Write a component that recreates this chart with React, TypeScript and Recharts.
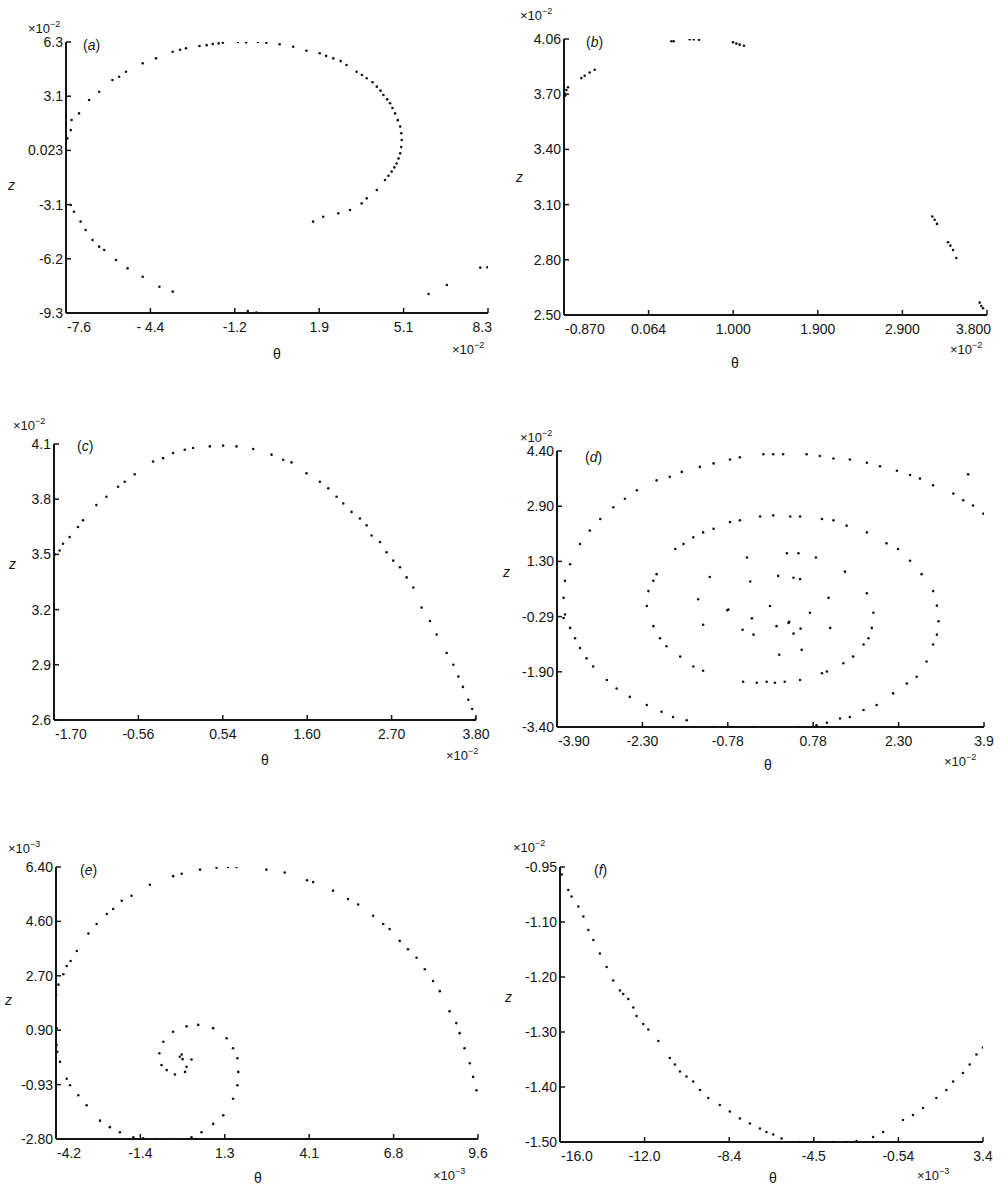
import React from 'react';
import { ScatterChart, Scatter, XAxis, YAxis } from 'recharts';

// θ, z pairs (units as printed on the axes)
const pointsA: number[][] = [
  [-7.61, 0.47], [-7.55, 0.75], [-7.42, 1.23], [-7.39, 1.81], [-7.11, 2.19], [-6.73, 2.96], [-6.35, 3.44],
  [-5.85, 4.11], [-5.6, 4.3], [-5.34, 4.59], [-4.71, 5.07], [-4.21, 5.36], [-3.58, 5.74], [-3.3, 5.85], [-3.08, 5.94], [-2.57, 6.07],
  [-2.3, 6.12], [-2.07, 6.18], [-1.85, 6.22], [-1.69, 6.26], [-1.12, 6.3], [-0.81, 6.28], [-0.37, 6.3],
  [-0.05, 6.26], [0.45, 6.17], [0.96, 6.03], [1.46, 5.8], [1.96, 5.65], [2.2, 5.5], [2.47, 5.36], [2.75, 5.2],
  [2.97, 4.98], [3.35, 4.59], [3.55, 4.4], [3.73, 4.21], [3.95, 3.98], [4.11, 3.73], [4.25, 3.5], [4.36, 3.25], [4.5, 3.0],
  [4.61, 2.77], [4.7, 2.5], [4.8, 2.19], [4.9, 1.8], [4.99, 1.43], [5.03, 1.05], [5.05, 0.66], [5.03, 0.25],
  [4.99, -0.11], [4.93, -0.4], [4.86, -0.69], [4.77, -0.92], [4.67, -1.16], [4.55, -1.4], [4.42, -1.64],
  [4.11, -2.22], [3.73, -2.7], [3.54, -2.99], [3.1, -3.37], [2.66, -3.56], [2.09, -3.76], [1.71, -4.04],
  [-7.61, -2.41], [-7.42, -3.08], [-7.3, -3.47], [-7.05, -4.04], [-6.86, -4.52], [-6.6, -5.1], [-6.35, -5.48],
  [-6.16, -5.67], [-5.72, -6.25], [-5.28, -6.73], [-4.71, -7.21], [-4.08, -7.79], [-3.58, -8.07],
  [-0.75, -9.19], [-0.43, -9.28], [6.06, -8.21], [6.75, -7.69], [8.01, -6.69], [8.28, -6.67],
];

const pointsB: number[][] = [
  [-0.863, 3.753], [-0.855, 3.74], [-0.844, 3.772], [-0.826, 3.787], [-0.679, 3.839], [-0.642, 3.852],
  [-0.587, 3.871], [-0.531, 3.886], [0.315, 4.047], [0.341, 4.047], [0.517, 4.058], [0.562, 4.058],
  [0.62, 4.056], [0.996, 4.041], [1.033, 4.034], [1.069, 4.028], [1.117, 4.022], [3.196, 3.057],
  [3.222, 3.038], [3.248, 3.015], [3.369, 2.911], [3.395, 2.892], [3.425, 2.867], [3.461, 2.822],
  [3.719, 2.57], [3.737, 2.551], [3.756, 2.538],
];

const pointsC: number[][] = [
  [-1.69, 3.5], [-1.626, 3.521], [-1.582, 3.558], [-1.496, 3.594], [-1.387, 3.649], [-1.322, 3.686],
  [-1.148, 3.768], [-1.017, 3.813], [-0.865, 3.868], [-0.778, 3.895], [-0.648, 3.936], [-0.409, 4.005],
  [-0.278, 4.023], [-0.148, 4.051], [0.004, 4.069], [0.113, 4.078], [0.331, 4.087], [0.504, 4.091],
  [0.678, 4.087], [0.896, 4.073], [1.135, 4.042], [1.287, 4.014], [1.396, 4.0], [1.591, 3.941],
  [1.765, 3.895], [1.874, 3.859], [1.983, 3.813], [2.07, 3.777], [2.178, 3.731], [2.287, 3.695],
  [2.374, 3.658], [2.439, 3.603], [2.548, 3.567], [2.635, 3.512], [2.722, 3.466], [2.809, 3.43],
  [2.896, 3.375], [2.983, 3.32], [3.091, 3.211], [3.2, 3.138], [3.287, 3.065], [3.418, 2.964],
  [3.505, 2.9], [3.57, 2.836], [3.63, 2.78], [3.7, 2.71], [3.75, 2.66], [3.8, 2.61],
];

const pointsD: number[][] = [
  // outer turn
  [-3.754, -0.22], [-3.78, 0.25], [-3.754, 0.73], [-3.66, 1.2], [-3.48, 1.77], [-3.3, 2.15], [-3.11, 2.48],
  [-2.87, 2.81], [-2.66, 3.05], [-2.44, 3.29], [-2.08, 3.57], [-1.84, 3.67], [-1.62, 3.81], [-1.29, 3.95],
  [-1.04, 4.05], [-0.74, 4.16], [-0.56, 4.22], [-0.13, 4.31], [0.05, 4.31], [0.23, 4.31], [0.66, 4.31],
  [0.9, 4.26], [1.15, 4.19], [1.45, 4.16], [1.76, 4.07], [2.0, 3.97], [2.31, 3.84], [2.55, 3.72],
  [2.73, 3.62], [2.97, 3.43], [3.34, 3.2], [3.52, 3.01], [3.7, 2.86], [3.89, 2.63], [3.61, 3.74],
  [-3.78, -0.32], [-3.66, -0.6], [-3.57, -0.89], [-3.48, -1.17], [-3.36, -1.46], [-3.24, -1.69],
  [-2.99, -2.07], [-2.81, -2.31], [-2.57, -2.55], [-2.26, -2.78], [-1.99, -2.97], [-1.78, -3.12],
  [-1.53, -3.21], [-1.04, -3.4], [-0.74, -3.4], [-0.31, -3.4], [0.51, -3.4], [0.84, -3.35], [1.03, -3.28],
  [1.27, -3.16], [1.45, -3.12], [1.7, -2.92], [1.94, -2.78], [2.24, -2.45], [2.49, -2.17], [2.67, -1.98],
  [2.85, -1.55], [2.97, -1.07], [3.04, -0.79], [3.07, -0.41], [3.04, 0.03], [2.97, 0.44], [2.76, 0.92],
  [2.55, 1.3], [2.33, 1.63],
  // second turn
  [2.12, 1.79], [1.76, 2.1], [1.39, 2.29], [1.15, 2.44], [0.94, 2.48], [0.54, 2.55], [0.36, 2.55],
  [0.05, 2.58], [-0.19, 2.55], [-0.56, 2.44], [-0.74, 2.39], [-1.04, 2.2], [-1.23, 2.1], [-1.41, 1.96],
  [-1.59, 1.77], [-1.74, 1.63], [-2.08, 0.92], [-2.14, 0.73], [-2.23, 0.44], [-2.26, 0.02], [-2.14, -0.55],
  [-2.02, -0.89], [-1.9, -1.12], [-1.65, -1.41], [-1.41, -1.69], [-1.23, -1.81], [-0.5, -2.12],
  [-0.25, -2.15], [-0.07, -2.12], [0.08, -2.15], [0.26, -2.12], [0.54, -2.07], [0.94, -1.88], [1.03, -1.83],
  [1.33, -1.6], [1.51, -1.41], [1.7, -1.07], [1.79, -0.89], [1.85, -0.6], [1.88, -0.17], [1.76, 0.38],
  // inner turns
  [1.36, 0.99], [0.83, 1.39], [0.51, 1.51], [0.3, 1.51], [-0.43, 1.39], [-1.11, 0.84], [-1.32, 0.21],
  [-1.23, -0.51], [-0.77, -0.08], [0.14, 0.87], [0.42, 0.82], [0.54, 0.78], [-0.37, 0.71], [1.06, 0.25],
  [-0.79, -0.1], [-0.01, 0.02], [0.72, -0.17], [-0.34, -0.33], [0.34, -0.43], [-0.51, -0.65], [0.11, -0.55],
  [0.42, -0.76], [0.55, -0.62], [1.09, -0.6], [-0.31, -0.79], [0.57, -1.22], [0.16, -1.36], [0.33, -0.46],
];

const pointsE: number[][] = [
  [-4.18, 0.95], [-4.18, 0.38], [-4.16, 0.15], [-4.069, -0.19], [-3.85, -0.76], [-3.74, -0.98],
  [-3.47, -1.32], [-3.2, -1.66], [-2.76, -2.18], [-2.44, -2.4], [-2.11, -2.57], [-1.67, -2.74],
  [-1.35, -2.78], [-0.91, -2.8], [-0.48, -2.8], [0.07, -2.8], [0.23, -2.74], [0.56, -2.57], [0.94, -2.29],
  [1.27, -2.0], [1.59, -1.44], [1.73, -0.98], [1.76, -0.53], [1.73, -0.07], [1.59, 0.27], [1.38, 0.61],
  [0.94, 0.95], [0.45, 1.06], [0.07, 1.01], [-0.37, 0.83], [-0.69, 0.49], [-0.82, 0.1], [-0.75, -0.3],
  [-0.58, -0.47], [-0.31, -0.62], [0.02, -0.53], [0.07, -0.36], [-0.15, -0.02], [-0.06, -0.1],
  [0.23, -0.11], [-0.09, 0.06],
  [-4.2, 2.08], [-4.12, 2.42], [-3.96, 2.77], [-3.85, 3.05], [-3.72, 3.22], [-3.52, 3.56], [-3.14, 4.15],
  [-2.87, 4.47], [-2.54, 4.81], [-2.33, 4.98], [-2.05, 5.26], [-1.73, 5.43], [-1.13, 5.8], [-0.37, 6.09],
  [-0.09, 6.17], [0.51, 6.31], [1.05, 6.38], [1.43, 6.4], [1.7, 6.4], [2.68, 6.31], [3.28, 6.21],
  [4.01, 5.95], [4.21, 5.89], [4.86, 5.6], [5.35, 5.32], [5.68, 5.13], [6.17, 4.75], [6.5, 4.47],
  [6.71, 4.3], [7.04, 3.9], [7.31, 3.62], [7.59, 3.33], [7.86, 2.94], [8.13, 2.54], [8.35, 2.2],
  [8.67, 1.52], [8.89, 1.12], [9.0, 0.78], [9.16, 0.27], [9.33, -0.24], [9.44, -0.7], [9.55, -1.15],
];

const pointsF: number[][] = [
  [-16.0, -0.955], [-15.92, -0.965], [-15.62, -0.996], [-15.47, -1.009], [-15.16, -1.029], [-14.93, -1.049],
  [-14.7, -1.076], [-14.47, -1.096], [-14.17, -1.123], [-13.86, -1.15], [-13.56, -1.177], [-13.25, -1.197],
  [-13.1, -1.204], [-12.87, -1.214], [-12.64, -1.231], [-12.49, -1.248], [-12.18, -1.264], [-11.95, -1.275],
  [-11.49, -1.298], [-10.96, -1.332], [-10.73, -1.345], [-10.5, -1.359], [-10.2, -1.369], [-9.89, -1.379],
  [-9.58, -1.396], [-9.2, -1.412], [-8.67, -1.426], [-8.21, -1.439], [-7.75, -1.453], [-7.29, -1.463],
  [-6.83, -1.473], [-6.53, -1.48], [-6.22, -1.485], [-5.84, -1.493], [-5.0, -1.5], [-4.39, -1.5],
  [-4.08, -1.5], [-3.47, -1.5], [-2.86, -1.5], [-2.4, -1.498], [-1.64, -1.49], [-1.18, -1.48],
  [-0.27, -1.456], [0.19, -1.446], [0.65, -1.432], [1.26, -1.412], [1.72, -1.396], [2.03, -1.379],
  [2.48, -1.362], [2.79, -1.345], [3.1, -1.325], [3.4, -1.311],
];

const xLabelsA = ['-7.6', '- 4.4', '-1.2', '1.9', '5.1', '8.3'];
const yLabelsA = ['-9.3', '-6.2', '-3.1', '0.023', '3.1', '6.3'];
const xLabelsB = ['-0.870', '0.064', '1.000', '1.900', '2.900', '3.800'];
const yLabelsB = ['2.50', '2.80', '3.10', '3.40', '3.70', '4.06'];
const xLabelsC = ['-1.70', '-0.56', '0.54', '1.60', '2.70', '3.80'];
const yLabelsC = ['2.6', '2.9', '3.2', '3.5', '3.8', '4.1'];
const xLabelsD = ['-3.90', '-2.30', '-0.78', '0.78', '2.30', '3.9'];
const yLabelsD = ['-3.40', '-1.90', '-0.29', '1.30', '2.90', '4.40'];
const xLabelsE = ['-4.2', '-1.4', '1.3', '4.1', '6.8', '9.6'];
const yLabelsE = ['-2.80', '-0.93', '0.90', '2.70', '4.60', '6.40'];
const xLabelsF = ['-16.0', '-12.0', '-8.4', '-4.5', '-0.54', '3.4'];
const yLabelsF = ['-1.50', '-1.40', '-1.30', '-1.20', '-1.10', '-0.95'];

const INK = '#151515';
const FONT = '"Liberation Sans", Arial, sans-serif';

const spread = (lo: number, hi: number, n: number) =>
  Array.from({ length: n }, (_, i) => lo + ((hi - lo) * i) / (n - 1));

const Dot = (p: any) => <circle cx={p.cx} cy={p.cy} r={1.3} fill={INK} />;

const YTick = ({ x, y, index, labels }: any) => (
  <g>
    <line x1={x} x2={x + 5} y1={y} y2={y} stroke={INK} strokeWidth={1.5} />
    <text x={x - 3} y={y} dy={5} textAnchor="end" fontSize={14} fontFamily={FONT} fill={INK}>
      {labels[index]}
    </text>
  </g>
);

// first label sits right of the corner; last one may be pulled in from the edge
const XTick = ({ x, y, index, labels, lastEnd }: any) => {
  const last = index === labels.length - 1;
  let anchor = 'middle';
  let tx = x;
  if (index === 0) {
    anchor = 'start';
    tx = x + 1;
  } else if (last && lastEnd) {
    anchor = 'end';
    tx = x + 4;
  }
  return (
    <g>
      <line x1={x} x2={x} y1={y} y2={y - 5} stroke={INK} strokeWidth={1.5} />
      <text x={tx} y={y + 19} textAnchor={anchor} fontSize={14} fontFamily={FONT} fill={INK}>
        {labels[index]}
      </text>
    </g>
  );
};

interface PanelProps {
  points: number[][];
  xDomain: [number, number];
  yDomain: [number, number];
  xLabels: string[];
  yLabels: string[];
  lastEnd?: boolean;
  box: { left: number; top: number; width: number; height: number };
}

const Panel: React.FC<PanelProps> = ({ points, xDomain, yDomain, xLabels, yLabels, lastEnd, box }) => {
  const data = points.map(([x, y]) => ({ x, y }));
  return (
    <div style={{ position: 'absolute', left: box.left - 70, top: box.top - 10 }}>
      <ScatterChart
        width={box.width + 100}
        height={box.height + 50}
        margin={{ top: 10, right: 30, bottom: 10, left: 10 }}
      >
        <XAxis
          type="number"
          dataKey="x"
          domain={xDomain}
          ticks={spread(xDomain[0], xDomain[1], 6)}
          allowDataOverflow
          interval={0}
          height={30}
          tickSize={0}
          tickMargin={0}
          tickLine={false}
          axisLine={{ stroke: INK, strokeWidth: 2 }}
          tick={<XTick labels={xLabels} lastEnd={lastEnd} />}
        />
        <YAxis
          type="number"
          dataKey="y"
          domain={yDomain}
          ticks={spread(yDomain[0], yDomain[1], 6)}
          allowDataOverflow
          interval={0}
          width={60}
          tickSize={0}
          tickMargin={0}
          tickLine={false}
          axisLine={{ stroke: INK, strokeWidth: 2 }}
          tick={<YTick labels={yLabels} />}
        />
        <Scatter data={data} shape={Dot} isAnimationActive={false} />
      </ScatterChart>
    </div>
  );
};

const Exp = ({ x, y, p }: { x: number; y: number; p: string }) => (
  <text x={x} y={y} fontSize={13} fontFamily={FONT} fill={INK}>
    ×10<tspan dy={-6} fontSize={9}>{p}</tspan>
  </text>
);

const Annot = ({ a }: any) => (
  <g>
    <Exp x={a.top[0]} y={a.top[1]} p={a.topExp} />
    <Exp x={a.bottom[0]} y={a.bottom[1]} p={a.bottomExp} />
    <text x={a.z[0]} y={a.z[1]} fontSize={14} fontStyle="italic" fontFamily={FONT} fill={INK}>z</text>
    <text x={a.theta[0]} y={a.theta[1]} fontSize={14} textAnchor="middle" fontFamily={FONT} fill={INK}>θ</text>
    <text x={a.letter[0]} y={a.letter[1]} fontSize={14} fontFamily={FONT} fill={INK}>
      (<tspan fontStyle="italic">{a.name}</tspan>)
    </text>
  </g>
);

const annotations = [
  { name: 'a', top: [28, 33], topExp: '−2', bottom: [452, 354], bottomExp: '−2', z: [8, 190], theta: [277, 359], letter: [83, 50] },
  { name: 'b', top: [520, 20], topExp: '−2', bottom: [950, 354], bottomExp: '−2', z: [516, 182], theta: [735, 368], letter: [586, 47] },
  { name: 'c', top: [13, 430], topExp: '−2', bottom: [446, 760], bottomExp: '−2', z: [9, 569], theta: [265, 765], letter: [77, 451] },
  { name: 'd', top: [520, 442], topExp: '−2', bottom: [944, 766], bottomExp: '−2', z: [503, 577], theta: [768, 770], letter: [585, 462] },
  { name: 'e', top: [8, 853], topExp: '−3', bottom: [433, 1180], bottomExp: '−3', z: [5, 1005], theta: [258, 1183], letter: [80, 875] },
  { name: 'f', top: [513, 852], topExp: '−2', bottom: [917, 1180], bottomExp: '−3', z: [505, 1002], theta: [773, 1183], letter: [594, 875] },
];

export default function App() {
  return (
    <div style={{ position: 'absolute', left: 0, top: 0, width: 1002, height: 1185, background: '#fff', overflow: 'hidden' }}>
      <Panel points={pointsA} xDomain={[-7.6, 8.3]} yDomain={[-9.3, 6.3]} xLabels={xLabelsA} yLabels={yLabelsA} lastEnd
        box={{ left: 66, top: 42, width: 422, height: 271 }} />
      <Panel points={pointsB} xDomain={[-0.87, 3.8]} yDomain={[2.5, 4.06]} xLabels={xLabelsB} yLabels={yLabelsB} lastEnd
        box={{ left: 564, top: 39, width: 423, height: 276 }} />
      <Panel points={pointsC} xDomain={[-1.7, 3.8]} yDomain={[2.6, 4.1]} xLabels={xLabelsC} yLabels={yLabelsC}
        box={{ left: 54, top: 444, width: 422, height: 276 }} />
      <Panel points={pointsD} xDomain={[-3.9, 3.9]} yDomain={[-3.4, 4.4]} xLabels={xLabelsD} yLabels={yLabelsD}
        box={{ left: 557, top: 451, width: 427, height: 276 }} />
      <Panel points={pointsE} xDomain={[-4.2, 9.6]} yDomain={[-2.8, 6.4]} xLabels={xLabelsE} yLabels={yLabelsE}
        box={{ left: 56, top: 867, width: 422, height: 272 }} />
      <Panel points={pointsF} xDomain={[-16.0, 3.4]} yDomain={[-1.5, -0.95]} xLabels={xLabelsF} yLabels={yLabelsF}
        box={{ left: 560, top: 867, width: 423, height: 275 }} />
      <svg width={1002} height={1185} style={{ position: 'absolute', left: 0, top: 0, pointerEvents: 'none' }}>
        {annotations.map((a) => <Annot key={a.name} a={a} />)}
      </svg>
    </div>
  );
}
